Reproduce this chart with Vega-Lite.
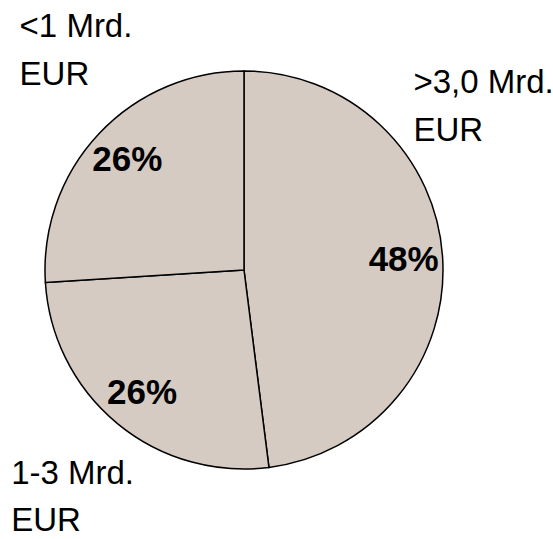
{
  "$schema": "https://vega.github.io/schema/vega-lite/v6.json",
  "width": 488,
  "height": 540,
  "padding": {"left": 0, "top": 0, "right": 65, "bottom": 0},
  "autosize": {"type": "none"},
  "background": "white",
  "config": {"view": {"stroke": null}},
  "data": {
    "values": [
      {"key": "a_gt3", "segment": ">3,0 Mrd.\nEUR", "share": 48, "pct": "48%"},
      {"key": "b_mid", "segment": "1-3 Mrd.\nEUR", "share": 26, "pct": "26%"},
      {"key": "c_lt1", "segment": "<1 Mrd.\nEUR", "share": 26, "pct": "26%"}
    ]
  },
  "encoding": {
    "theta": {"field": "share", "type": "quantitative", "stack": true},
    "order": {"field": "key", "type": "nominal", "sort": "ascending"}
  },
  "layer": [
    {
      "mark": {"type": "arc", "outerRadius": 199, "fill": "#d5cbc3", "stroke": "#000000", "strokeWidth": 1.5}
    },
    {
      "mark": {"type": "text", "radius": 160, "font": "Liberation Sans", "fontWeight": "bold", "fontSize": 35, "align": "center", "baseline": "middle", "color": "#000000"},
      "encoding": {"text": {"field": "pct", "type": "nominal"}}
    },
    {
      "mark": {"type": "text", "radius": 290, "dx": -13, "dy": -34, "font": "Liberation Sans", "fontSize": 33, "lineHeight": 48, "lineBreak": "\n", "align": "left", "baseline": "alphabetic", "color": "#000000"},
      "encoding": {"text": {"condition": {"test": "datum.key === 'c_lt1'", "field": "segment"}, "value": ""}}
    },
    {
      "mark": {"type": "text", "radius": 290, "dx": -48, "dy": -9, "font": "Liberation Sans", "fontSize": 33, "lineHeight": 47, "lineBreak": "\n", "align": "left", "baseline": "alphabetic", "color": "#000000"},
      "encoding": {"text": {"condition": {"test": "datum.key === 'b_mid'", "field": "segment"}, "value": ""}}
    },
    {
      "mark": {"type": "text", "radius": 290, "dx": -120, "dy": -159, "font": "Liberation Sans", "fontSize": 33, "lineHeight": 48, "lineBreak": "\n", "align": "left", "baseline": "alphabetic", "color": "#000000"},
      "encoding": {"text": {"condition": {"test": "datum.key === 'a_gt3'", "field": "segment"}, "value": ""}}
    }
  ]
}
